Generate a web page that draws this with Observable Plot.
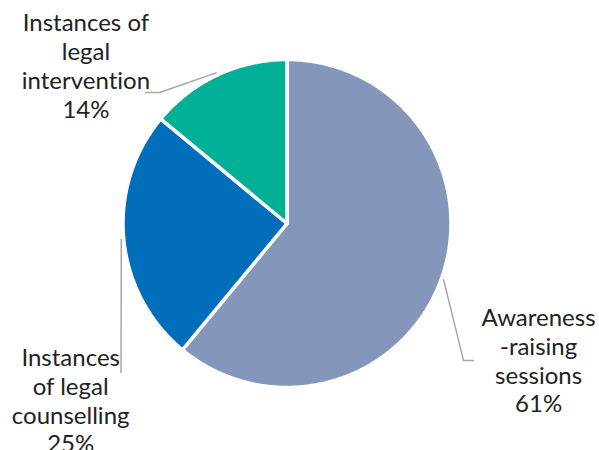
<!DOCTYPE html>
<html>
<head>
<meta charset="utf-8">
<script src="https://cdn.jsdelivr.net/npm/d3@7"></script>
<script src="https://cdn.jsdelivr.net/npm/@observablehq/plot@0.6"></script>
<style>
  html, body { margin: 0; padding: 0; background: #fff; }
  #chart svg { display: block; }
  #chart svg text { font-variant-ligatures: none; font-feature-settings: "liga" 0, "clig" 0; }
</style>
</head>
<body>
<div id="chart"></div>
<script>
// ---- data ----
const categories = ["Awareness-raising sessions", "Instances of legal counselling", "Instances of legal intervention"];
const labelTexts = ["Awareness\n-raising\nsessions", "Instances\nof legal\ncounselling", "Instances of\nlegal\nintervention"];
const values = [61, 25, 14];
const colors = ["#8497BA", "#006EBB", "#00B096"];

// ---- label layout (unit = pie radius, centre at 0,0) ----
const labelX = [1.534, -1.319, -1.226];
const labelY = [-1.152, -1.396, 0.646];
const leaderBends = [[[1.076, -0.835], [1.137, -0.835]], [[-1.012, -0.909]], [[-0.777, 0.799], [-0.863, 0.799]]];

// ---- geometry from data ----
const pie = d3.pie().sort(null).value(d => d)(values);
const slicePts = [];
pie.forEach((p, i) => {
  const a0 = p.startAngle, a1 = p.endAngle;
  const n = Math.max(2, Math.ceil((a1 - a0) / (Math.PI / 360)));
  slicePts.push({cat: categories[i], x: 0, y: 0});
  for (let k = 0; k <= n; k++) {
    const a = a0 + (a1 - a0) * k / n;
    slicePts.push({cat: categories[i], x: Math.sin(a), y: Math.cos(a)});
  }
  slicePts.push({cat: categories[i], x: 0, y: 0});
});

const leaderPts = [];
pie.forEach((p, i) => {
  const m = (p.startAngle + p.endAngle) / 2;
  leaderPts.push({cat: categories[i], x: 1.015 * Math.sin(m), y: 1.015 * Math.cos(m)});
  leaderBends[i].forEach(([x, y]) => leaderPts.push({cat: categories[i], x, y}));
});

const labels = categories.map((c, i) => ({
  text: labelTexts[i] + "\n" + Math.round(values[i] / d3.sum(values) * 100) + "%",
  x: labelX[i], y: labelY[i]
}));

const R = 164, cx = 286.5, cy = 223, W = 599, H = 450;

const chart = Plot.plot({
  width: W, height: H,
  margin: 0,
  style: {fontFamily: "Lato, sans-serif", background: "#fff"},
  x: {domain: [-cx / R, (W - cx) / R], axis: null},
  y: {domain: [-(H - cy) / R, cy / R], axis: null},
  color: {domain: categories, range: colors},
  marks: [
    Plot.line(slicePts, {x: "x", y: "y", z: "cat", fill: "cat", stroke: "#fff", strokeWidth: 3.5, strokeLinejoin: "round", curve: "linear"}),
    Plot.line(leaderPts, {x: "x", y: "y", z: "cat", stroke: "#A6A6A6", strokeWidth: 1.5}),
    Plot.text(labels, {x: "x", y: "y", text: "text", textAnchor: "middle", lineAnchor: "bottom", lineHeight: 1.2, fontSize: 24, fill: "#222"})
  ]
});
document.getElementById("chart").appendChild(chart);
</script>
</body>
</html>
